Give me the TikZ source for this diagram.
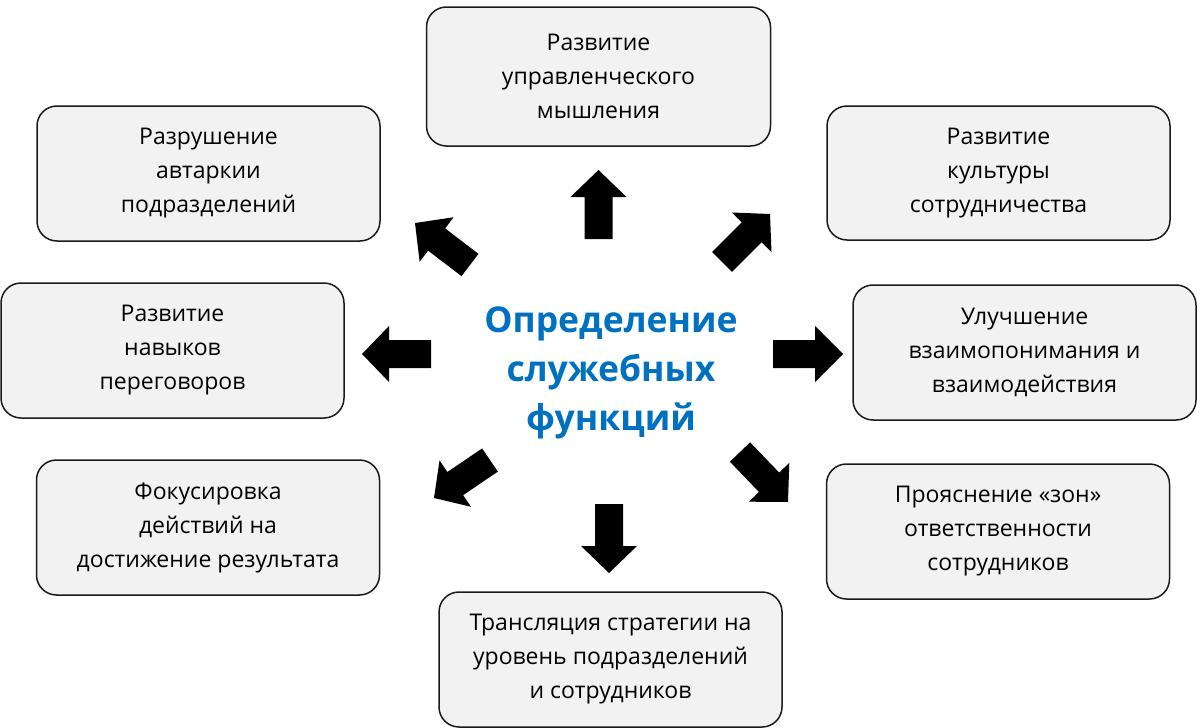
\documentclass[tikz,border=0pt]{standalone}
\usepackage{fontspec}
\setmainfont{Open Sans}
\usetikzlibrary{calc}
\definecolor{boxfill}{HTML}{F2F2F2}
\definecolor{boxline}{HTML}{1A1A1A}
\definecolor{titleblue}{HTML}{0070C0}
\tikzset{
  infobox/.style={draw=boxline, line width=1.5pt, fill=boxfill, rounded corners=20pt,
    minimum width=343pt, minimum height=135pt, align=center, inner sep=0pt,
    font=\fontsize{23}{34}\selectfont},
  titletext/.style={align=center, text=titleblue, font=\fontsize{35.5}{49}\selectfont\bfseries},
  arrowfill/.style={fill=black}
}
\newcommand\blockarrow[2]{%
  \coordinate (h) at ($(#1)!42pt!(#2)$);
  \fill[arrowfill] ($(#1)!14pt!90:(#2)$) -- ($(h)!14pt!90:(#2)$) -- ($(h)!28pt!90:(#2)$)
    -- (#2) -- ($(h)!28pt!-90:(#2)$) -- ($(h)!14pt!-90:(#2)$) -- ($(#1)!14pt!-90:(#2)$) -- cycle;
}
\begin{document}
\begin{tikzpicture}[x=1pt,y=-1pt]
\useasboundingbox (0,0) rectangle (1200,728);
\node[infobox, minimum width=344pt, minimum height=139pt] (b1) at (598.5,76.5) {Развитие\\управленческого\\мышления};
\node[infobox] (b2) at (208.5,173.5) {Разрушение\\автаркии\\подразделений};
\node[infobox, minimum height=134pt] (b3) at (998.5,173) {Развитие\\культуры\\сотрудничества};
\node[infobox] (b4) at (172.5,350.5) {Развитие\\навыков\\переговоров};
\node[infobox] (b5) at (1024.5,352.5) {Улучшение\\взаимопонимания и\\взаимодействия};
\node[infobox] (b6) at (208,527.5) {Фокусировка\\действий на\\достижение результата};
\node[infobox] (b7) at (998,531.5) {Прояснение «зон»\\ответственности\\сотрудников};
\node[infobox] (b8) at (610.5,659.5) {Трансляция стратегии на\\уровень подразделений\\и сотрудников};
\node[titletext] (c) at (611,373) {Определение\\служебных\\функций};
% arrow tails and tips
\coordinate (t1) at (598.5,239); \coordinate (p1) at (598.5,170);
\coordinate (t2) at (470,265);   \coordinate (p2) at (415,223);
\coordinate (t3) at (722,262);   \coordinate (p3) at (770,214);
\coordinate (t4) at (431,354);   \coordinate (p4) at (362,354);
\coordinate (t5) at (773,354);   \coordinate (p5) at (843,354);
\coordinate (t6) at (490,460);   \coordinate (p6) at (434,498);
\coordinate (t7) at (740,452);   \coordinate (p7) at (788,502);
\coordinate (t8) at (609,504);   \coordinate (p8) at (609,573);
\blockarrow{t1}{p1}
\blockarrow{t2}{p2}
\blockarrow{t3}{p3}
\blockarrow{t4}{p4}
\blockarrow{t5}{p5}
\blockarrow{t6}{p6}
\blockarrow{t7}{p7}
\blockarrow{t8}{p8}
\end{tikzpicture}
\end{document}
